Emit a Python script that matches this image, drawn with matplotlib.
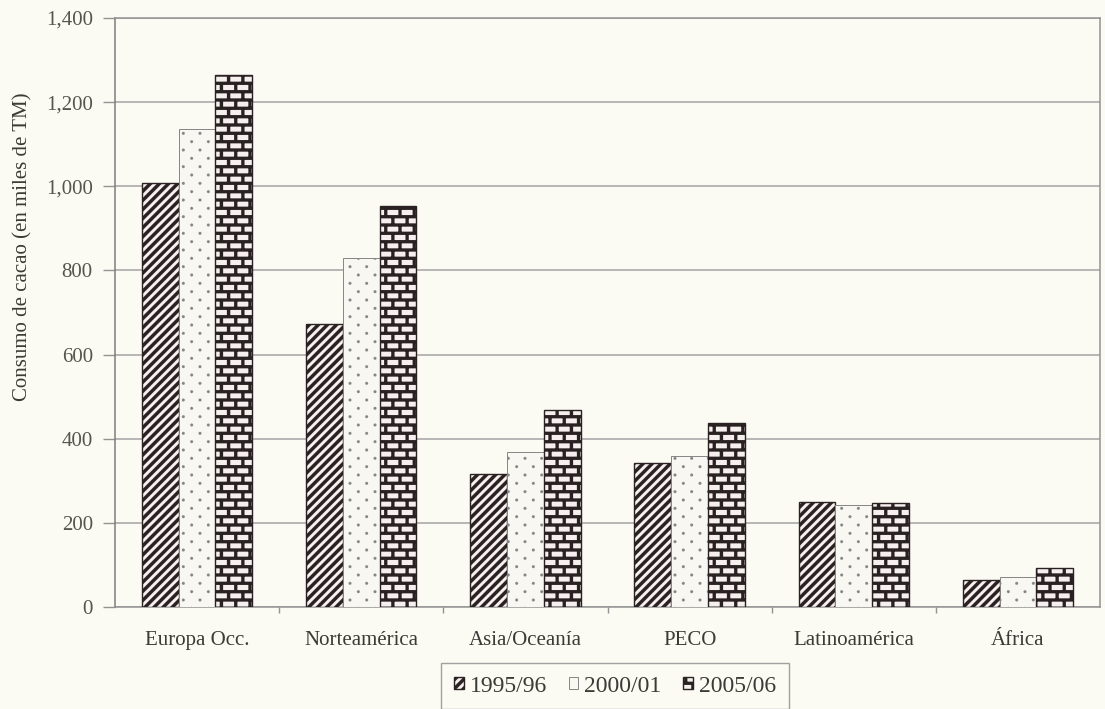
import numpy as np
import matplotlib
matplotlib.use("Agg")
import matplotlib.pyplot as plt
import matplotlib.hatch as mhatch
from matplotlib.path import Path
from matplotlib.ticker import FixedLocator, FuncFormatter

regions = ["Europa Occ.", "Norteamérica", "Asia/Oceanía", "PECO", "Latinoamérica", "África"]
seasons = ["1995/96", "2000/01", "2005/06"]
consumo_1995 = [1008, 672, 316, 342, 250, 63]
consumo_2000 = [1136, 830, 369, 359, 243, 72]
consumo_2005 = [1265, 952, 468, 437, 247, 93]


# filled hatch patterns (stripes, dots, bricks) drawn as polygons in the hatch tile
def poly_arrays(polys):
    verts, codes = [], []
    for poly in polys:
        verts.extend(poly)
        verts.append(poly[0])
        codes.extend([Path.MOVETO] + [Path.LINETO] * (len(poly) - 1) + [Path.CLOSEPOLY])
    return np.asarray(verts, float), np.asarray(codes, Path.code_type)


class FilledHatch(mhatch.HatchPatternBase):
    key = ""

    def __init__(self, hatch, density):
        self.num_vertices = 0
        if self.key in hatch:
            self._v, self._c = poly_arrays(self.polygons())
            self.num_vertices = len(self._v)

    def set_vertices_and_codes(self, vertices, codes):
        vertices[:] = self._v
        codes[:] = self._c


class StripeHatch(FilledHatch):
    key = "/"

    def polygons(self):
        n = 11
        w = 0.52 / n
        out = []
        for k in range(-n - 2, n + 1):
            c = k / n
            out.append([(-0.1, c - 0.1), (1.1, c + 1.1), (1.1, c + 1.1 + w), (-0.1, c - 0.1 + w)])
        return out


class DotHatch(FilledHatch):
    key = "."

    def polygons(self):
        rows, cols, r = 12, 6, 0.015
        ang = np.linspace(0, 2 * np.pi, 8, endpoint=False)
        out = []
        for i in range(rows + 1):
            shift = 0.5 / cols if i % 2 else 0.0
            for j in range(cols + 1):
                cx, cy = j / cols + shift, i / rows
                out.append(list(zip(cx + r * np.cos(ang), cy + r * np.sin(ang))))
        return out


class BrickHatch(FilledHatch):
    key = "*"

    def polygons(self):
        rows, cols, t = 12, 7, 0.032
        out = []
        for i in range(rows + 1):
            y = i / rows
            out.append([(-0.05, y - t / 2), (1.05, y - t / 2), (1.05, y + t / 2), (-0.05, y + t / 2)])
        for i in range(rows):
            y0, y1 = i / rows, (i + 1) / rows
            shift = 0.5 / cols if i % 2 else 0.0
            for j in range(cols + 1):
                x = j / cols + shift
                out.append([(x - t / 2, y0), (x + t / 2, y0), (x + t / 2, y1), (x - t / 2, y1)])
        return out


mhatch._hatch_types = [StripeHatch, DotHatch, BrickHatch]

plt.rcParams["font.family"] = ["Liberation Serif", "DejaVu Serif"]
plt.rcParams["hatch.linewidth"] = 0.1

bg = "#fbfaf3"
dark = "#2a2222"
grey = "#939393"

fig = plt.figure(figsize=(11.05, 7.09), dpi=100, facecolor=bg)
ax = fig.add_axes([115 / 1105, 1 - 607 / 709, 985 / 1105, 589 / 709])
ax.set_facecolor(bg)

x = np.arange(len(regions))
width = 0.224
styles = [
    dict(hatch="/", edgecolor=dark, facecolor="#f8f1ef", linewidth=1.0),
    dict(hatch=".", edgecolor="#858585", facecolor="#f8f7f1", linewidth=0.7),
    dict(hatch="*", edgecolor=dark, facecolor="#f5f0ee", linewidth=1.0),
]
series = [consumo_1995, consumo_2000, consumo_2005]
for j, (vals, label, st) in enumerate(zip(series, seasons, styles)):
    ax.bar(x + (j - 1) * width, vals, width, label=label, zorder=3, **st)

ax.set_xlim(-0.5, len(regions) - 0.5)
ax.set_ylim(0, 1400)
ax.set_yticks(np.arange(0, 1401, 200))
ax.yaxis.set_major_formatter(FuncFormatter(lambda v, p: f"{v:,.0f}"))
ax.grid(axis="y", color="#a3a3a3", linewidth=1.1, zorder=0)

ax.set_xticks(x)
ax.set_xticklabels(regions)
ax.xaxis.set_minor_locator(FixedLocator(x[:-1] + 0.5))
ax.tick_params(axis="x", which="major", length=0, pad=17, labelsize=15, labelcolor="#3a3a36")
ax.tick_params(axis="x", which="minor", length=4, width=1, color=grey, direction="out")
ax.tick_params(axis="y", length=9, width=1, color=grey, pad=7, labelsize=15, labelcolor="#55554a")

for side in ["left", "bottom", "right", "top"]:
    ax.spines[side].set_color(grey)
    ax.spines[side].set_linewidth(1.1)
ax.spines["left"].set_color("#7d7d7d")

fig.text(23 / 1105, 1 - 247 / 709, "Consumo de cacao (en miles de TM)",
         rotation=90, ha="center", va="center", fontsize=15, color="#3a3a36")

leg = fig.legend(loc="center", bbox_to_anchor=(615 / 1105, 1 - 686 / 709), ncol=3,
                 fontsize=17, frameon=True, fancybox=False, edgecolor="#8a8a8a",
                 facecolor=bg, handlelength=0.42, handleheight=0.42,
                 handletextpad=0.25, columnspacing=0.9, borderpad=0.55)
leg.get_frame().set_linewidth(1.0)
for t in leg.get_texts():
    t.set_color("#3a3a36")

fig.savefig("out.png", dpi=100, facecolor=bg)
